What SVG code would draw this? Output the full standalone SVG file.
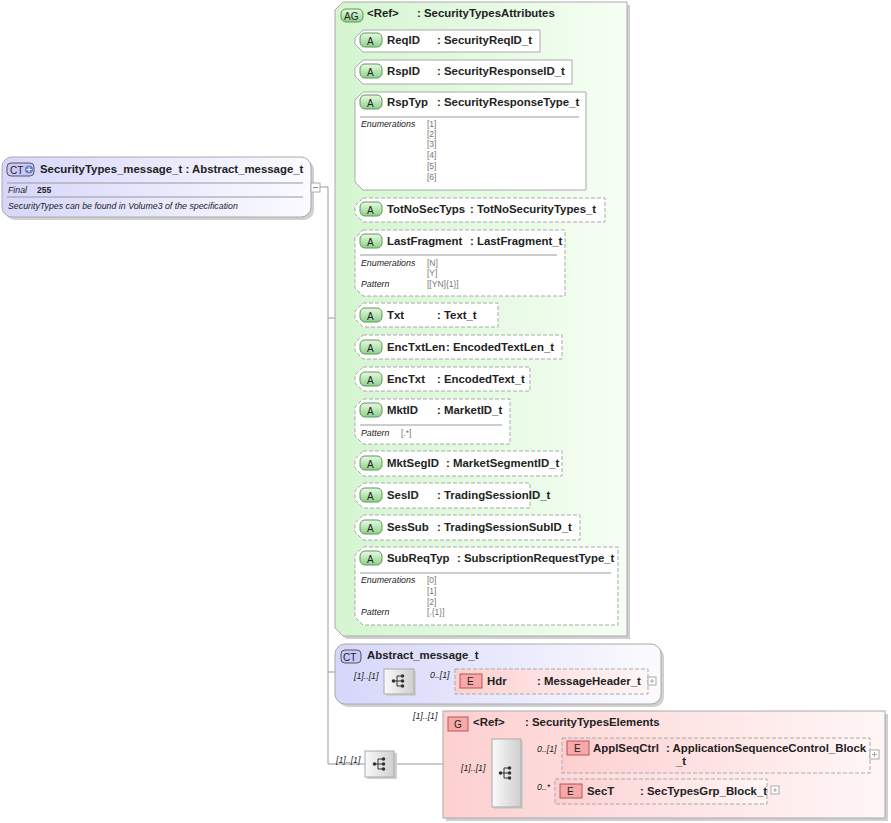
<svg xmlns="http://www.w3.org/2000/svg" width="891" height="823" viewBox="0 0 891 823">
<defs>
<linearGradient id="gG" x1="0" y1="0" x2="1" y2="0"><stop offset="0" stop-color="#d4f5d0"/><stop offset="1" stop-color="#f6fff4"/></linearGradient>
<linearGradient id="gCT" x1="0" y1="0" x2="1" y2="0"><stop offset="0" stop-color="#d6d6fb"/><stop offset="1" stop-color="#fbfbff"/></linearGradient>
<linearGradient id="gP" x1="0" y1="0" x2="1" y2="0"><stop offset="0" stop-color="#fdd0d0"/><stop offset="1" stop-color="#fff6f6"/></linearGradient>
<linearGradient id="gA" x1="0" y1="0" x2="0" y2="1"><stop offset="0" stop-color="#e8fae4"/><stop offset="1" stop-color="#8fd08a"/></linearGradient>
<linearGradient id="gSeq" x1="0" y1="0" x2="1" y2="0"><stop offset="0" stop-color="#fafafa"/><stop offset="1" stop-color="#cfcfcf"/></linearGradient>
<symbol id="seqI" viewBox="0 0 16 16"><path d="M2 8H6M6 3V13M6 3H11M6 8H11M6 13H11" stroke="#333" fill="none" stroke-width="1"/><circle cx="2.5" cy="8" r="1.8" fill="#333"/><circle cx="11.5" cy="3" r="1.8" fill="#333"/><circle cx="11.5" cy="8" r="1.8" fill="#333"/><circle cx="11.5" cy="13" r="1.8" fill="#333"/></symbol>
</defs>
<style>
text{font-family:"Liberation Sans",Arial,sans-serif;fill:#222}
.t{font-size:11.4px;font-weight:bold}
.s{font-size:8.8px;font-style:italic}
.v{font-size:8.5px;fill:#777}
.b{font-size:10px}
.ln{stroke:#999;fill:none;stroke-width:1}
.att{fill:#fff;stroke:#aaa;stroke-width:1}
.dash{stroke-dasharray:4,2}
.sh{fill:#d0d0d0}
.badgeA{fill:url(#gA);stroke:#5a9a55}
.badgeE{fill:#f5a9a9;stroke:#b55}
.sep{stroke:#999;stroke-width:1}
.seq{fill:url(#gSeq);stroke:#aaa}
.pl{fill:#fff;stroke:#aaa}
</style>

<g id="connectors">
<path class="ln" d="M320 187H328V764M328 318H335M328 672H335M328 764H365"/>
<path class="ln" d="M345 40V585M345 40H355M345 71H355M345 102H355M345 209H355M345 241H355M345 315H355M345 347H355M345 379H355M345 410H355M345 463H355M345 495H355M345 527H355M345 558H355"/>
<path class="ln" d="M335 681H384M414 681H455M394 764H443M443 773H492M521 754H562M521 792H555"/>
</g>

<g id="main">
<rect x="5" y="160" width="309" height="60" rx="10" class="sh"/>
<rect x="2" y="157" width="309" height="60" rx="10" fill="url(#gCT)" stroke="#aaa"/>
<rect x="7" y="163" width="27" height="13" rx="4" fill="#c8c8f8" stroke="#555"/>
<text x="10" y="173.5" style="font-size:10px">CT</text>
<circle cx="29" cy="169.5" r="4" fill="#6b7fc8"/><path d="M26.5 169.5H31.5M29 167V172" stroke="#fff"/>
<text x="40" y="173" class="t">SecurityTypes_message_t : Abstract_message_t</text>
<path class="sep" d="M7 183H303M7 197H303"/>
<text x="8" y="193" class="s">Final</text>
<text x="37" y="193" style="font-size:8.5px;font-weight:bold">255</text>
<text x="8" y="209" class="s">SecurityTypes can be found in Volume3 of the specification</text>
<rect x="311" y="183" width="9" height="9" class="pl"/><path d="M313 187.5H318" stroke="#888"/>
</g>

<g id="attributeGroup">
<path d="M346 5H630V639H346L338 631V13Z" class="sh"/>
<path d="M343 2H627V636H343L335 628V10Z" fill="url(#gG)" stroke="#aaa"/>
<rect x="341" y="9" width="22" height="13" rx="5" class="badgeA"/>
<text x="344" y="19.5" style="font-size:10px">AG</text>
<text x="367" y="17" class="t">&lt;Ref&gt;</text>
<text x="417" y="17" class="t">: SecurityTypesAttributes</text>
</g>

<g id="attr-ReqID"><path d="M363 30H540V52H363L355 44V38Z" class="att"/><rect x="360" y="33" width="22" height="14" rx="5" class="badgeA"/><text x="367" y="44.5" class="b">A</text><text x="387" y="44" class="t">ReqID</text><text x="437" y="44" class="t">: SecurityReqID_t</text></g>
<g id="attr-RspID"><path d="M363 60H572V84H363L355 76V68Z" class="att"/><rect x="360" y="64" width="22" height="14" rx="5" class="badgeA"/><text x="367" y="75.5" class="b">A</text><text x="387" y="75" class="t">RspID</text><text x="437" y="75" class="t">: SecurityResponseID_t</text></g>
<g id="attr-RspTyp"><path d="M363 92H586V190H363L355 182V100Z" class="att"/><rect x="360" y="95" width="22" height="14" rx="5" class="badgeA"/><text x="367" y="106.5" class="b">A</text><text x="387" y="106" class="t">RspTyp</text><text x="437" y="106" class="t">: SecurityResponseType_t</text><path class="sep" d="M360 117H579"/><text x="361" y="127" class="s">Enumerations</text><text x="427" y="127" class="v">[1]</text><text x="427" y="137" class="v">[2]</text><text x="427" y="147" class="v">[3]</text><text x="427" y="158" class="v">[4]</text><text x="427" y="169" class="v">[5]</text><text x="427" y="180" class="v">[6]</text></g>
<g id="attr-TotNoSecTyps"><path d="M363 198H605V222H363L355 214V206Z" class="att dash"/><rect x="360" y="202" width="22" height="14" rx="5" class="badgeA"/><text x="367" y="213.5" class="b">A</text><text x="387" y="213" class="t">TotNoSecTyps</text><text x="470" y="213" class="t">: TotNoSecurityTypes_t</text></g>
<g id="attr-LastFragment"><path d="M363 230H565V296H363L355 288V238Z" class="att dash"/><rect x="360" y="234" width="22" height="14" rx="5" class="badgeA"/><text x="367" y="245.5" class="b">A</text><text x="387" y="245" class="t">LastFragment</text><text x="470" y="245" class="t">: LastFragment_t</text><path class="sep" d="M360 255H557"/><text x="361" y="266" class="s">Enumerations</text><text x="427" y="266" class="v">[N]</text><text x="427" y="276" class="v">[Y]</text><text x="361" y="287" class="s">Pattern</text><text x="427" y="287" class="v">[[YN]{1}]</text></g>
<g id="attr-Txt"><path d="M363 303H498V327H363L355 319V311Z" class="att dash"/><rect x="360" y="308" width="22" height="14" rx="5" class="badgeA"/><text x="367" y="319.5" class="b">A</text><text x="387" y="319" class="t">Txt</text><text x="437" y="319" class="t">: Text_t</text></g>
<g id="attr-EncTxtLen"><path d="M363 335H562V359H363L355 351V343Z" class="att dash"/><rect x="360" y="340" width="22" height="14" rx="5" class="badgeA"/><text x="367" y="351.5" class="b">A</text><text x="387" y="351" class="t">EncTxtLen</text><text x="446" y="351" class="t">: EncodedTextLen_t</text></g>
<g id="attr-EncTxt"><path d="M363 367H530V391H363L355 383V375Z" class="att dash"/><rect x="360" y="372" width="22" height="14" rx="5" class="badgeA"/><text x="367" y="383.5" class="b">A</text><text x="387" y="383" class="t">EncTxt</text><text x="437" y="383" class="t">: EncodedText_t</text></g>
<g id="attr-MktID"><path d="M363 399H510V444H363L355 436V407Z" class="att dash"/><rect x="360" y="403" width="22" height="14" rx="5" class="badgeA"/><text x="367" y="414.5" class="b">A</text><text x="387" y="414" class="t">MktID</text><text x="437" y="414" class="t">: MarketID_t</text><path class="sep" d="M360 425H502"/><text x="361" y="436" class="s">Pattern</text><text x="401" y="436" class="v">[.*]</text></g>
<g id="attr-MktSegID"><path d="M363 451H562V476H363L355 468V459Z" class="att dash"/><rect x="360" y="456" width="22" height="14" rx="5" class="badgeA"/><text x="367" y="467.5" class="b">A</text><text x="387" y="467" class="t">MktSegID</text><text x="446" y="467" class="t">: MarketSegmentID_t</text></g>
<g id="attr-SesID"><path d="M363 483H530V508H363L355 500V491Z" class="att dash"/><rect x="360" y="488" width="22" height="14" rx="5" class="badgeA"/><text x="367" y="499.5" class="b">A</text><text x="387" y="499" class="t">SesID</text><text x="437" y="499" class="t">: TradingSessionID_t</text></g>
<g id="attr-SesSub"><path d="M363 515H580V540H363L355 532V523Z" class="att dash"/><rect x="360" y="520" width="22" height="14" rx="5" class="badgeA"/><text x="367" y="531.5" class="b">A</text><text x="387" y="531" class="t">SesSub</text><text x="437" y="531" class="t">: TradingSessionSubID_t</text></g>
<g id="attr-SubReqTyp"><path d="M363 547H618V625H363L355 617V555Z" class="att dash"/><rect x="360" y="551" width="22" height="14" rx="5" class="badgeA"/><text x="367" y="562.5" class="b">A</text><text x="387" y="562" class="t">SubReqTyp</text><text x="457" y="562" class="t">: SubscriptionRequestType_t</text><path class="sep" d="M360 573H611"/><text x="361" y="583" class="s">Enumerations</text><text x="427" y="583" class="v">[0]</text><text x="427" y="594" class="v">[1]</text><text x="427" y="605" class="v">[2]</text><text x="361" y="615" class="s">Pattern</text><text x="427" y="615" class="v">[.{1}]</text></g>

<g id="abstract">
<rect x="338" y="647" width="326" height="60" rx="10" class="sh"/>
<rect x="335" y="644" width="326" height="60" rx="10" fill="url(#gCT)" stroke="#aaa"/>
<rect x="341" y="650" width="20" height="13" rx="4" fill="#c8c8f8" stroke="#555"/>
<text x="343" y="660.5" style="font-size:10px">CT</text>
<text x="367" y="659" class="t">Abstract_message_t</text>
<text x="354" y="679" class="s">[1]..[1]</text>
<rect x="386" y="671" width="30" height="25" class="sh"/>
<rect x="384" y="669" width="30" height="25" class="seq"/>
<use href="#seqI" x="391" y="673" width="16" height="16"/>
<text x="430" y="678" class="s">0..[1]</text>
</g>
<g id="el-Hdr">
<rect x="455" y="669" width="193" height="25" fill="url(#gP)" stroke="#aaa" class="dash"/>
<rect x="460" y="674" width="22" height="14" class="badgeE"/><text x="467" y="685" class="b">E</text>
<text x="487" y="685" class="t">Hdr</text><text x="537" y="685" class="t">: MessageHeader_t</text>
<rect x="648" y="677" width="8" height="8" class="pl"/><path d="M650 681H654M652 679V683" stroke="#aaa"/>
</g>

<g id="seqMain">
<text x="336" y="763" class="s">[1]..[1]</text>
<rect x="367" y="753" width="30" height="26" class="sh"/>
<rect x="365" y="751" width="29" height="26" class="seq"/>
<use href="#seqI" x="372" y="756" width="16" height="16"/>
</g>

<g id="elementsGroup">
<text x="413" y="719" class="s">[1]..[1]</text>
<rect x="446" y="714" width="442" height="107" class="sh"/>
<rect x="443" y="711" width="442" height="107" fill="url(#gP)" stroke="#aaa"/>
<rect x="448" y="717" width="20" height="14" fill="#f5a9a9" stroke="#b55"/><text x="454" y="728" class="b">G</text>
<text x="473" y="726" class="t">&lt;Ref&gt;</text><text x="525" y="726" class="t">: SecurityTypesElements</text>
<text x="461" y="771" class="s">[1]..[1]</text>
<rect x="494" y="741" width="29" height="68" class="sh"/>
<rect x="492" y="739" width="29" height="68" class="seq"/>
<use href="#seqI" x="498" y="765" width="16" height="16"/>
<text x="537" y="752" class="s">0..[1]</text>
<text x="537" y="790" class="s">0..*</text>
</g>
<g id="el-ApplSeqCtrl">
<rect x="562" y="738" width="308" height="35" fill="url(#gP)" stroke="#aaa" class="dash"/>
<rect x="567" y="741" width="22" height="14" class="badgeE"/><text x="574" y="752" class="b">E</text>
<text x="593" y="752" class="t">ApplSeqCtrl</text><text x="666" y="752" class="t">: ApplicationSequenceControl_Block</text>
<text x="676" y="765" class="t">_t</text>
<rect x="870" y="750" width="9" height="9" class="pl"/><path d="M872 754.5H877M874.5 752V757" stroke="#aaa"/>
</g>
<g id="el-SecT">
<rect x="555" y="779" width="212" height="25" fill="url(#gP)" stroke="#aaa" class="dash"/>
<rect x="560" y="784" width="22" height="14" class="badgeE"/><text x="567" y="795" class="b">E</text>
<text x="587" y="795" class="t">SecT</text><text x="640" y="795" class="t">: SecTypesGrp_Block_t</text>
<rect x="771" y="786" width="8" height="8" class="pl"/><path d="M773 790H777M775 788V792" stroke="#aaa"/>
</g>
</svg>
